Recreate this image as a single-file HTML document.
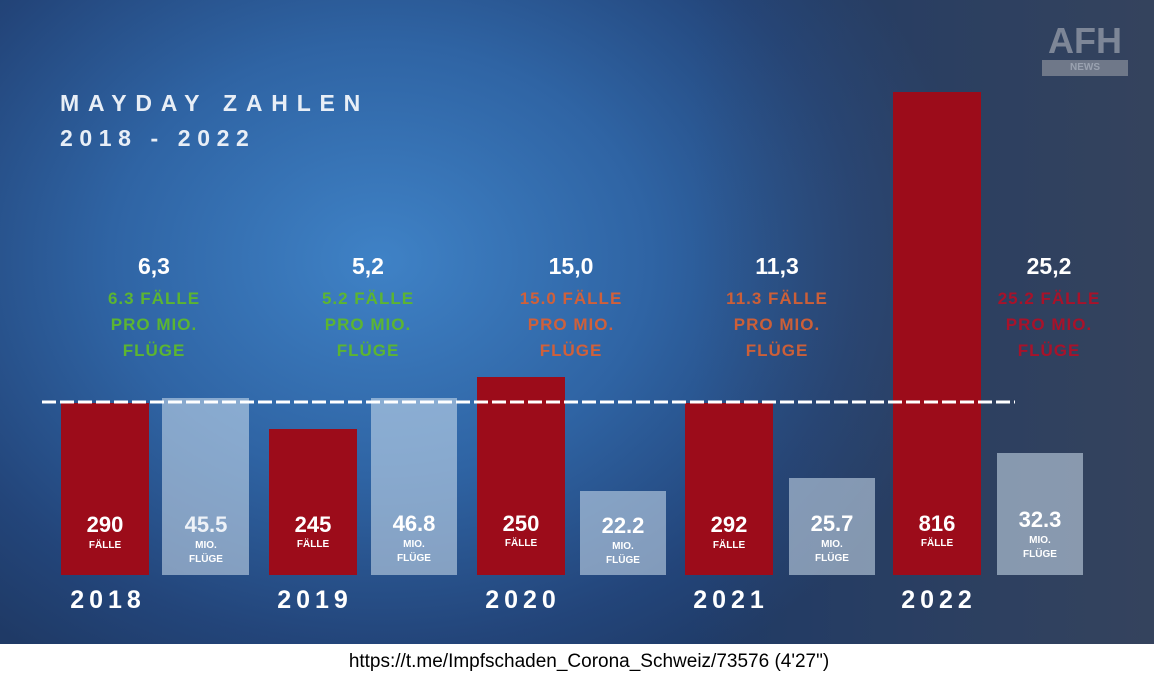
<!DOCTYPE html>
<html><head><meta charset="utf-8"><style>
body{margin:0;width:1154px;height:687px;background:#fff;font-family:"Liberation Sans",sans-serif;overflow:hidden;position:relative}
#bg{position:absolute;left:0;top:0;width:1154px;height:644px;background:radial-gradient(ellipse 600px 480px at 380px 260px,#3f82c6 0%,#2f64a4 45%,#23457a 80%,#1f3a66 100%);overflow:hidden}
#bg:after{content:"";position:absolute;left:0;top:0;right:0;bottom:0;background:linear-gradient(90deg,rgba(60,70,90,0) 60%,rgba(60,70,90,0.75) 100%)}
.a{position:absolute;z-index:2}
.r{background:#9c0c1a}
.g{background:rgba(210,225,240,0.55)}
.n{position:absolute;width:90px;text-align:center;color:#fff;font-weight:bold;font-size:22px;z-index:3}
.s{position:absolute;width:90px;text-align:center;color:#fff;font-weight:bold;font-size:10px;line-height:14px;z-index:3}
.y{position:absolute;width:140px;text-align:center;color:#fff;font-weight:bold;font-size:25px;letter-spacing:5px;z-index:3}
.t{position:absolute;width:160px;text-align:center;font-weight:bold;z-index:3}
.t b{display:block;color:#fff;font-size:23px;margin-bottom:6px}
.t span{display:block;font-size:17px;line-height:26px;letter-spacing:1px}
</style></head><body>
<div id="bg"></div>
<div class="a" style="left:60px;top:86px;color:#e8eef6;font-weight:bold;font-size:23px;line-height:35px"><div style="letter-spacing:8.8px">MAYDAY ZAHLEN</div><div style="letter-spacing:6.6px">2018 - 2022</div></div>
<div class="a" style="left:1042px;top:24px;width:86px;text-align:center;color:#7d8697;font-weight:bold;font-size:36px;line-height:34px">AFH</div>
<div class="a" style="left:1042px;top:60px;width:86px;height:16px;background:#6f7889;color:#9aa2b0;font-size:10px;font-weight:bold;text-align:center;line-height:16px">NEWS</div>

<div class="a r" style="left:61px;top:403px;width:88px;height:172px"></div>
<div class="a g" style="left:162px;top:398px;width:87px;height:177px"></div>
<div class="a r" style="left:269px;top:429px;width:88px;height:146px"></div>
<div class="a g" style="left:371px;top:398px;width:86px;height:177px"></div>
<div class="a r" style="left:477px;top:377px;width:88px;height:198px"></div>
<div class="a g" style="left:580px;top:491px;width:86px;height:84px"></div>
<div class="a r" style="left:685px;top:403px;width:88px;height:172px"></div>
<div class="a g" style="left:789px;top:478px;width:86px;height:97px"></div>
<div class="a r" style="left:893px;top:92px;width:88px;height:483px"></div>
<div class="a g" style="left:997px;top:453px;width:86px;height:122px"></div>

<svg class="a" style="left:0;top:0;z-index:4" width="1154" height="644"><line x1="42" y1="402" x2="1015" y2="402" stroke="#fff" stroke-width="3" stroke-dasharray="14 4"/></svg>

<div class="n" style="left:60px;top:512px">290</div><div class="s" style="left:60px;top:539px">FÄLLE</div>
<div class="n" style="left:161px;top:512px;color:#eef2f8">45.5</div><div class="s" style="left:161px;top:539px">MIO.<br>FLÜGE</div>
<div class="n" style="left:268px;top:512px">245</div><div class="s" style="left:268px;top:538px">FÄLLE</div>
<div class="n" style="left:369px;top:511px">46.8</div><div class="s" style="left:369px;top:538px">MIO.<br>FLÜGE</div>
<div class="n" style="left:476px;top:511px">250</div><div class="s" style="left:476px;top:537px">FÄLLE</div>
<div class="n" style="left:578px;top:513px">22.2</div><div class="s" style="left:578px;top:540px">MIO.<br>FLÜGE</div>
<div class="n" style="left:684px;top:512px">292</div><div class="s" style="left:684px;top:539px">FÄLLE</div>
<div class="n" style="left:787px;top:511px">25.7</div><div class="s" style="left:787px;top:538px">MIO.<br>FLÜGE</div>
<div class="n" style="left:892px;top:511px">816</div><div class="s" style="left:892px;top:537px">FÄLLE</div>
<div class="n" style="left:995px;top:507px">32.3</div><div class="s" style="left:995px;top:534px">MIO.<br>FLÜGE</div>

<div class="y" style="left:38px;top:586px">2018</div>
<div class="y" style="left:245px;top:586px">2019</div>
<div class="y" style="left:453px;top:586px">2020</div>
<div class="y" style="left:661px;top:586px">2021</div>
<div class="y" style="left:869px;top:586px">2022</div>

<div class="t" style="left:74px;top:253px;color:#5cb531"><b>6,3</b><span>6.3 FÄLLE</span><span>PRO MIO.</span><span>FLÜGE</span></div>
<div class="t" style="left:288px;top:253px;color:#5cb531"><b>5,2</b><span>5.2 FÄLLE</span><span>PRO MIO.</span><span>FLÜGE</span></div>
<div class="t" style="left:491px;top:253px;color:#d0603a"><b>15,0</b><span>15.0 FÄLLE</span><span>PRO MIO.</span><span>FLÜGE</span></div>
<div class="t" style="left:697px;top:253px;color:#cc5f38"><b>11,3</b><span>11.3 FÄLLE</span><span>PRO MIO.</span><span>FLÜGE</span></div>
<div class="t" style="left:969px;top:253px;color:#a8122a"><b>25,2</b><span>25.2 FÄLLE</span><span>PRO MIO.</span><span>FLÜGE</span></div>

<div style="position:absolute;left:12px;top:651px;width:1154px;text-align:center;font-size:19px;color:#000">https://t.me/Impfschaden_Corona_Schweiz/73576 (4'27")</div>
</body></html>
